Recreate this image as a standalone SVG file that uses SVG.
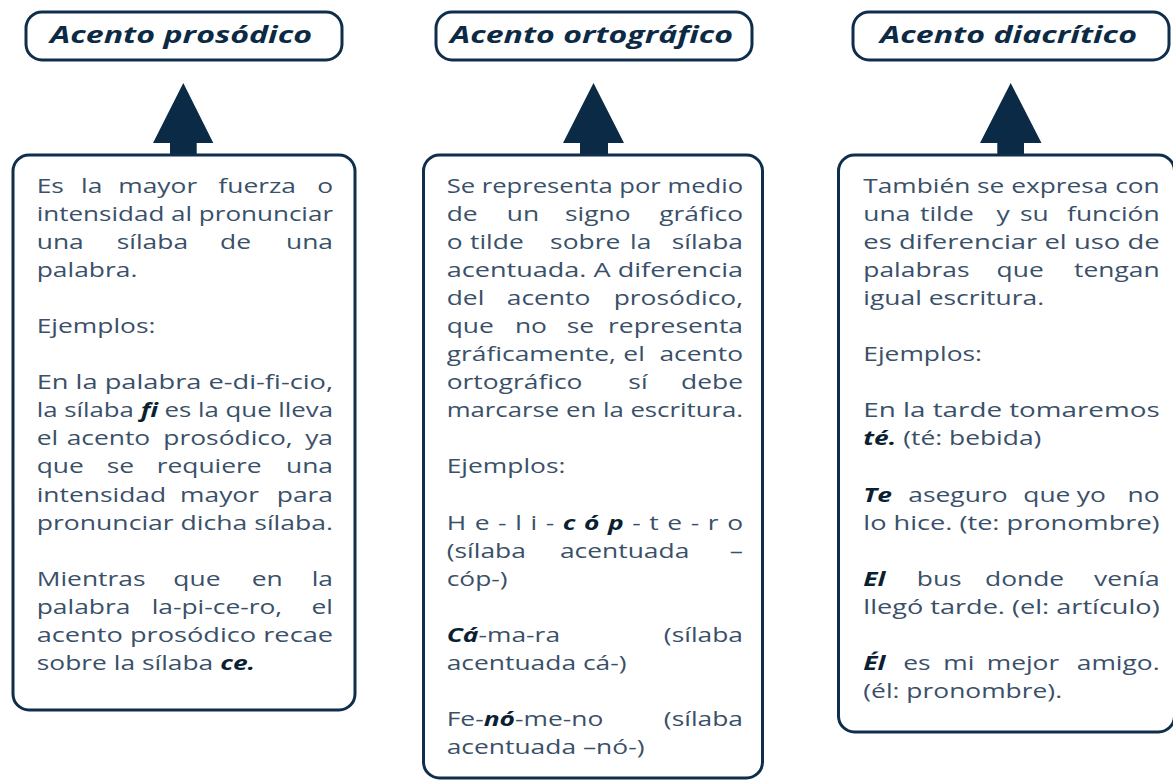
<svg xmlns="http://www.w3.org/2000/svg" width="1173" height="781" viewBox="0 0 1173 781">
<style>
.box{fill:#fff;stroke:#0e2e4c;stroke-width:3}
.h{font-family:"Open Sans","Liberation Sans",sans-serif;font-weight:700;font-style:italic;font-size:23px;fill:#0d2a45}
.t{font-family:"Open Sans","Liberation Sans",sans-serif;font-size:20px;fill:#3a5069}
.e{font-weight:700;font-style:italic;fill:#0b1f33}
.arrow{fill:#0b2a45}
</style>
<rect width="1173" height="781" fill="#fff"/>

<g id="connectors">
<polygon class="arrow" points="183.3,83 213.3,143 196.7,143 196.7,155 170,155 170,143 153,143"/>
<polygon class="arrow" points="593.5,83 624,143 608,143 608,155 580,155 580,143 563,143"/>
<polygon class="arrow" points="1010.7,83 1041.5,143 1024,143 1024,155 997.3,155 997.3,143 980,143"/>
</g>

<g id="node-prosodico">
<rect class="box" x="26" y="12" width="316" height="48" rx="16"/>
<text class="h" x="50" y="43" textLength="262" lengthAdjust="spacingAndGlyphs">Acento prosódico</text>
</g>
<g id="node-ortografico">
<rect class="box" x="436" y="12" width="316" height="48" rx="16"/>
<text class="h" x="450" y="43" textLength="283" lengthAdjust="spacingAndGlyphs">Acento ortográfico</text>
</g>
<g id="node-diacritico">
<rect class="box" x="853" y="12" width="316" height="48" rx="16"/>
<text class="h" x="880" y="43" textLength="257" lengthAdjust="spacingAndGlyphs">Acento diacrítico</text>
</g>

<g id="node-desc-prosodico">
<rect class="box" x="13" y="155" width="342" height="555" rx="16"/>
<g class="t" transform="translate(36.7,0) scale(1.32,1)">
<text y="192.7"><tspan x="0">Es</tspan><tspan x="33.6">la</tspan><tspan x="61.8">mayor</tspan><tspan x="137.6">fuerza</tspan></text>
<text x="224.5" y="192.7" text-anchor="end">o</text>
<text x="0" y="220.8" textLength="224.5" lengthAdjust="spacingAndGlyphs">intensidad al pronunciar</text>
<text y="248.9"><tspan x="0">una</tspan><tspan x="60.6">sílaba</tspan><tspan x="138.9">de</tspan></text>
<text x="224.5" y="248.9" text-anchor="end">una</text>
<text x="0" y="276.9">palabra.</text>
<text x="0" y="333.1">Ejemplos:</text>
<text x="0" y="389.3" textLength="224.5" lengthAdjust="spacingAndGlyphs">En la palabra e-di-fi-cio,</text>
<text x="0" y="417.3" textLength="224.5" lengthAdjust="spacingAndGlyphs">la sílaba <tspan class="e">fi</tspan> es la que lleva</text>
<text y="445.4"><tspan x="0">el</tspan><tspan x="22.7">acento</tspan><tspan x="95.9">prosódico,</tspan></text>
<text x="224.5" y="445.4" text-anchor="end">ya</text>
<text y="473.5"><tspan x="0">que</tspan><tspan x="53">se</tspan><tspan x="90.9">requiere</tspan></text>
<text x="224.5" y="473.5" text-anchor="end">una</text>
<text y="501.6"><tspan x="0">intensidad</tspan><tspan x="108.6">mayor</tspan></text>
<text x="224.5" y="501.6" text-anchor="end">para</text>
<text x="0" y="529.7" textLength="224.5" lengthAdjust="spacingAndGlyphs">pronunciar dicha sílaba.</text>
<text y="585.8"><tspan x="0">Mientras</tspan><tspan x="103.5">que</tspan><tspan x="162.9">en</tspan></text>
<text x="224.5" y="585.8" text-anchor="end">la</text>
<text y="613.9"><tspan x="0">palabra</tspan><tspan x="87.1">la-pi-ce-ro,</tspan></text>
<text x="224.5" y="613.9" text-anchor="end">el</text>
<text x="0" y="642" textLength="224.5" lengthAdjust="spacingAndGlyphs">acento prosódico recae</text>
<text x="0" y="670.1">sobre la sílaba <tspan class="e">ce.</tspan></text>
</g>
</g>

<g id="node-desc-ortografico">
<rect class="box" x="423.5" y="155" width="339" height="623" rx="16"/>
<g class="t" transform="translate(446.7,0) scale(1.32,1)">
<text x="0" y="192.7" textLength="224.5" lengthAdjust="spacingAndGlyphs">Se representa por medio</text>
<text y="220.8"><tspan x="0">de</tspan><tspan x="45.5">un</tspan><tspan x="89.6">signo</tspan></text>
<text x="224.5" y="220.8" text-anchor="end">gráfico</text>
<text y="248.9"><tspan x="0">o</tspan><tspan x="17.7">tilde</tspan><tspan x="78.3">sobre</tspan><tspan x="138.9">la</tspan></text>
<text x="224.5" y="248.9" text-anchor="end">sílaba</text>
<text x="0" y="276.9" textLength="224.5" lengthAdjust="spacingAndGlyphs">acentuada. A diferencia</text>
<text y="305"><tspan x="0">del</tspan><tspan x="45.5">acento</tspan></text>
<text x="224.5" y="305" text-anchor="end">prosódico,</text>
<text y="333.1"><tspan x="0">que</tspan><tspan x="51.7">no</tspan><tspan x="90.9">se</tspan></text>
<text x="224.5" y="333.1" text-anchor="end">representa</text>
<text y="361.2"><tspan x="0">gráficamente,</tspan><tspan x="133.8">el</tspan></text>
<text x="224.5" y="361.2" text-anchor="end">acento</text>
<text y="389.3"><tspan x="0">ortográfico</tspan><tspan x="137.6">sí</tspan></text>
<text x="224.5" y="389.3" text-anchor="end">debe</text>
<text x="0" y="417.3" textLength="224.5" lengthAdjust="spacingAndGlyphs">marcarse en  la escritura.</text>
<text x="0" y="473.5">Ejemplos:</text>
<text x="0" y="529.7" textLength="224.5" lengthAdjust="spacing">He-li-<tspan class="e">cóp</tspan>-te-ro</text>
<text y="557.7"><tspan x="0">(sílaba</tspan><tspan x="85.8">acentuada</tspan></text>
<text x="224.5" y="557.7" text-anchor="end">–</text>
<text x="0" y="585.8">cóp-)</text>
<text x="0" y="642"><tspan class="e">Cá</tspan>-ma-ra</text>
<text x="224.5" y="642" text-anchor="end">(sílaba</text>
<text x="0" y="670.1">acentuada cá-)</text>
<text x="0" y="726.2">Fe-<tspan class="e">nó</tspan>-me-no</text>
<text x="224.5" y="726.2" text-anchor="end">(sílaba</text>
<text x="0" y="754.3">acentuada –nó-)</text>
</g>
</g>

<g id="node-desc-diacritico">
<rect class="box" x="838.5" y="155" width="336" height="577" rx="16"/>
<g class="t" transform="translate(863.3,0) scale(1.32,1)">
<text x="0" y="192.7" textLength="224.5" lengthAdjust="spacingAndGlyphs">También se expresa con</text>
<text y="220.8"><tspan x="0">una</tspan><tspan x="43">tilde</tspan><tspan x="101">y</tspan><tspan x="118.7">su</tspan></text>
<text x="224.5" y="220.8" text-anchor="end">función</text>
<text x="0" y="248.9" textLength="224.5" lengthAdjust="spacingAndGlyphs">es diferenciar el uso de</text>
<text y="276.9"><tspan x="0">palabras</tspan><tspan x="101">que</tspan></text>
<text x="224.5" y="276.9" text-anchor="end">tengan</text>
<text x="0" y="305">igual escritura.</text>
<text x="0" y="361.2">Ejemplos:</text>
<text x="0" y="417.3" textLength="224.5" lengthAdjust="spacingAndGlyphs">En la tarde tomaremos</text>
<text x="0" y="445.4"><tspan class="e">té.</tspan> (té: bebida)</text>
<text y="501.6"><tspan x="0" class="e">Te</tspan><tspan x="34.1">aseguro</tspan><tspan x="121.2">que</tspan><tspan x="161.7">yo</tspan></text>
<text x="224.5" y="501.6" text-anchor="end">no</text>
<text x="0" y="529.7" textLength="224.5" lengthAdjust="spacingAndGlyphs">lo hice. (te: pronombre)</text>
<text y="585.8"><tspan x="0" class="e">El</tspan><tspan x="40.5">bus</tspan><tspan x="92.2">donde</tspan></text>
<text x="224.5" y="585.8" text-anchor="end">venía</text>
<text x="0" y="613.9" textLength="224.5" lengthAdjust="spacingAndGlyphs">llegó tarde. (el: artículo)</text>
<text y="670.1"><tspan x="0" class="e">Él</tspan><tspan x="30.3">es</tspan><tspan x="60.6">mi</tspan><tspan x="93.5">mejor</tspan></text>
<text x="224.5" y="670.1" text-anchor="end">amigo.</text>
<text x="0" y="698.1">(él: pronombre).</text>
</g>
</g>
</svg>
